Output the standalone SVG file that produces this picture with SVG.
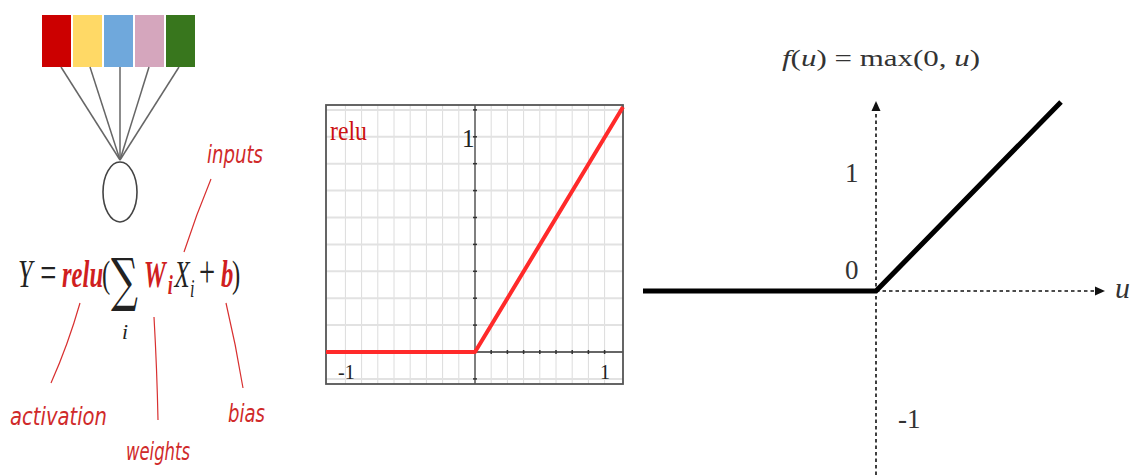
<svg xmlns="http://www.w3.org/2000/svg" width="1132" height="475" viewBox="0 0 1132 475">
<style>
.math{font-family:"Liberation Serif","DejaVu Serif",serif;fill:#222}
.mi{font-style:italic}
.red{fill:#d01f1f;font-weight:bold;font-style:italic}
.hand{font-family:"DejaVu Sans","Liberation Sans",sans-serif;font-style:italic;fill:#d02a2a;font-size:24px}
.ann{stroke:#d83030;stroke-width:1.2;fill:none}
.wire{stroke:#666;stroke-width:1.5}
.vg{stroke:#dcdcdc;stroke-width:1}
.hg{stroke:#e2e2e2;stroke-width:2}
.tick{stroke:#333;stroke-width:1.5}
.dot{stroke:#111;stroke-width:1.6;stroke-dasharray:3.5,3;fill:none}
.lbl{font-family:"Liberation Serif","DejaVu Serif",serif;fill:#333}
</style>
<rect width="1132" height="475" fill="#fff"/>

<!-- Left: neuron -->
<g id="inputs-row">
<rect x="42" y="15" width="29" height="52" fill="#cc0000"/>
<rect x="73" y="15" width="29" height="52" fill="#ffd966"/>
<rect x="104" y="15" width="29" height="52" fill="#6fa8dc"/>
<rect x="135" y="15" width="29" height="52" fill="#d5a6bd"/>
<rect x="166" y="15" width="29" height="52" fill="#38761d"/>
</g>
<g id="connectors">
<line class="wire" x1="61" y1="67" x2="120" y2="160"/>
<line class="wire" x1="90" y1="67" x2="120" y2="160"/>
<line class="wire" x1="120" y1="67" x2="120" y2="160"/>
<line class="wire" x1="149" y1="67" x2="120" y2="160"/>
<line class="wire" x1="179" y1="67" x2="120" y2="160"/>
</g>
<g id="neuron">
<ellipse cx="120" cy="192" rx="17" ry="30" fill="none" stroke="#444" stroke-width="1.6"/>
</g>

<!-- Equation -->
<g id="equation">
<text class="math" transform="scale(0.65,1)" y="287" font-size="38"><tspan x="27.7" font-size="40" class="mi">Y</tspan><tspan x="62" font-size="44">=</tspan><tspan x="95.4" class="red">relu</tspan><tspan x="156.9">(</tspan><tspan x="170.8" y="300" font-family="DejaVu Serif,serif" font-size="58">∑</tspan><tspan x="221" y="287" class="red">W</tspan><tspan x="258" y="294" font-size="28" class="red">i</tspan><tspan x="268.5" y="287" class="mi">X</tspan><tspan x="292.3" y="297" font-size="25" class="mi">i</tspan><tspan x="306" y="287" font-size="44">+</tspan><tspan x="340" class="red">b</tspan><tspan x="356.9">)</tspan></text>
<text class="math mi" x="122" y="339" font-size="22" textLength="6" lengthAdjust="spacingAndGlyphs">i</text>
</g>

<!-- Annotations -->
<g id="annotations">
<path class="ann" d="M211,179 Q196,215 184,252"/>
<path class="ann" d="M80,303 Q68,345 51,383"/>
<path class="ann" d="M154,317 Q157,370 158,420"/>
<path class="ann" d="M226,303 Q236,345 243,388"/>
<text class="hand" x="207" y="163" textLength="56" lengthAdjust="spacingAndGlyphs">inputs</text>
<text class="hand" x="10" y="425" textLength="97" lengthAdjust="spacingAndGlyphs">activation</text>
<text class="hand" x="126" y="460" textLength="64" lengthAdjust="spacingAndGlyphs">weights</text>
<text class="hand" x="228" y="422" textLength="37" lengthAdjust="spacingAndGlyphs">bias</text>
</g>

<!-- Middle chart -->
<g id="relu-chart">
<rect x="326" y="105" width="297" height="279" fill="#fff"/>
<g class="vg">
<line x1="345.4" y1="105" x2="345.4" y2="384"/>
<line x1="361.6" y1="105" x2="361.6" y2="384"/>
<line x1="377.8" y1="105" x2="377.8" y2="384"/>
<line x1="394" y1="105" x2="394" y2="384"/>
<line x1="410.2" y1="105" x2="410.2" y2="384"/>
<line x1="426.4" y1="105" x2="426.4" y2="384"/>
<line x1="442.6" y1="105" x2="442.6" y2="384"/>
<line x1="458.8" y1="105" x2="458.8" y2="384"/>
<line x1="491.2" y1="105" x2="491.2" y2="384"/>
<line x1="507.4" y1="105" x2="507.4" y2="384"/>
<line x1="523.6" y1="105" x2="523.6" y2="384"/>
<line x1="539.8" y1="105" x2="539.8" y2="384"/>
<line x1="556" y1="105" x2="556" y2="384"/>
<line x1="572.2" y1="105" x2="572.2" y2="384"/>
<line x1="588.4" y1="105" x2="588.4" y2="384"/>
<line x1="604.6" y1="105" x2="604.6" y2="384"/>
</g>
<g class="hg">
<line x1="326" y1="109.9" x2="623" y2="109.9"/>
<line x1="326" y1="136.8" x2="623" y2="136.8"/>
<line x1="326" y1="163.7" x2="623" y2="163.7"/>
<line x1="326" y1="190.6" x2="623" y2="190.6"/>
<line x1="326" y1="217.5" x2="623" y2="217.5"/>
<line x1="326" y1="244.4" x2="623" y2="244.4"/>
<line x1="326" y1="271.3" x2="623" y2="271.3"/>
<line x1="326" y1="298.2" x2="623" y2="298.2"/>
<line x1="326" y1="325.1" x2="623" y2="325.1"/>
<line x1="326" y1="378.9" x2="623" y2="378.9"/>
</g>
<line x1="475" y1="105" x2="475" y2="384" stroke="#555" stroke-width="1.5"/>
<line x1="326" y1="352" x2="623" y2="352" stroke="#333" stroke-width="1.5"/>
<g class="tick">
<line x1="345.4" y1="350" x2="345.4" y2="354"/><line x1="361.6" y1="350" x2="361.6" y2="354"/><line x1="377.8" y1="350" x2="377.8" y2="354"/><line x1="394" y1="350" x2="394" y2="354"/><line x1="410.2" y1="350" x2="410.2" y2="354"/><line x1="426.4" y1="350" x2="426.4" y2="354"/><line x1="442.6" y1="350" x2="442.6" y2="354"/><line x1="458.8" y1="350" x2="458.8" y2="354"/>
<line x1="491.2" y1="350" x2="491.2" y2="354"/><line x1="507.4" y1="350" x2="507.4" y2="354"/><line x1="523.6" y1="350" x2="523.6" y2="354"/><line x1="539.8" y1="350" x2="539.8" y2="354"/><line x1="556" y1="350" x2="556" y2="354"/><line x1="572.2" y1="350" x2="572.2" y2="354"/><line x1="588.4" y1="350" x2="588.4" y2="354"/><line x1="604.6" y1="350" x2="604.6" y2="354"/>
<line x1="473" y1="109.9" x2="477" y2="109.9"/><line x1="473" y1="136.8" x2="477" y2="136.8"/><line x1="473" y1="163.7" x2="477" y2="163.7"/><line x1="473" y1="190.6" x2="477" y2="190.6"/><line x1="473" y1="217.5" x2="477" y2="217.5"/><line x1="473" y1="244.4" x2="477" y2="244.4"/><line x1="473" y1="271.3" x2="477" y2="271.3"/><line x1="473" y1="298.2" x2="477" y2="298.2"/><line x1="473" y1="325.1" x2="477" y2="325.1"/><line x1="473" y1="378.9" x2="477" y2="378.9"/>
</g>
<rect x="326" y="105" width="297" height="279" fill="none" stroke="#555" stroke-width="1.8"/>
<polyline points="326,352 475,352 623,107" fill="none" stroke="#ff2a2a" stroke-width="4" stroke-linejoin="round"/>
<text x="330" y="140" font-family="Liberation Serif,serif" font-size="27" fill="#cc1111" textLength="37" lengthAdjust="spacingAndGlyphs">relu</text>
<text x="462" y="147" font-family="Liberation Serif,serif" font-size="25" fill="#222">1</text>
<text x="338" y="379" font-family="Liberation Serif,serif" font-size="20" fill="#222">-1</text>
<text x="600" y="379" font-family="Liberation Serif,serif" font-size="20" fill="#222">1</text>
</g>

<!-- Right chart -->
<g id="max-chart">
<text x="782" y="66" class="lbl" font-size="23" textLength="198" lengthAdjust="spacingAndGlyphs"><tspan font-style="italic">f</tspan>(<tspan font-style="italic">u</tspan>) = max(0, <tspan font-style="italic">u</tspan>)</text>
<line class="dot" x1="876" y1="475" x2="876" y2="110"/>
<polygon points="876,101 871.5,111 880.5,111" fill="#111"/>
<line class="dot" x1="876" y1="291" x2="1096" y2="291"/>
<polygon points="1105,291 1095,286.5 1095,295.5" fill="#111"/>
<polyline points="643,291 876,291 1061,102" fill="none" stroke="#000" stroke-width="5"/>
<text x="845" y="182" class="lbl" font-size="27">1</text>
<text x="845" y="279" class="lbl" font-size="27">0</text>
<text x="898" y="428" class="lbl" font-size="27">-1</text>
<text x="1115" y="298" class="lbl" font-size="30" font-style="italic">u</text>
</g>
</svg>
